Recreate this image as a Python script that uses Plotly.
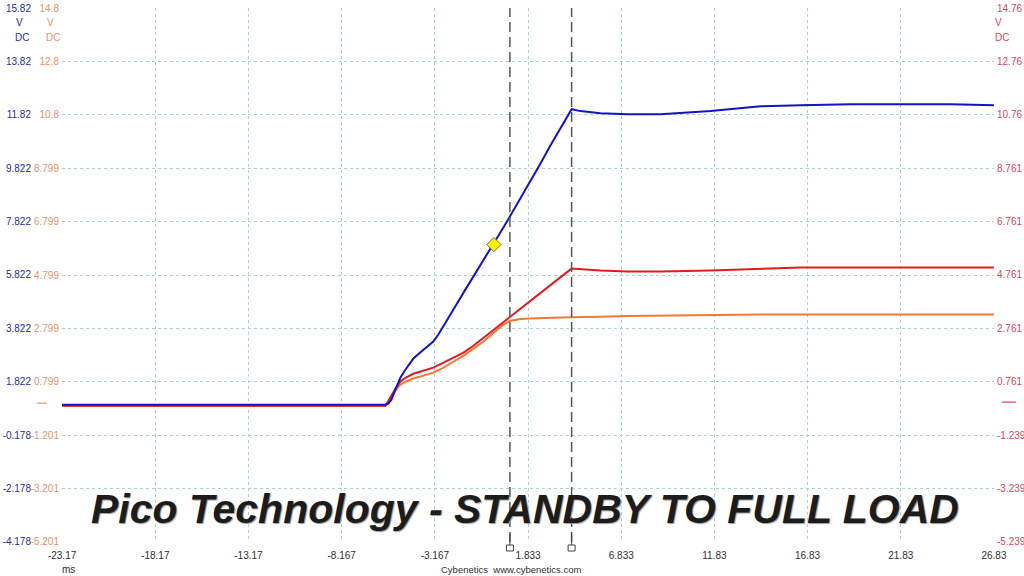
import plotly.graph_objects as go

# ---- data ----
time_ms = [-23.17, -18.44, -13.07, -7.70, -5.82, -5.66, -5.50, -5.29, -5.02, -4.75,
           -4.32, -3.78, -3.25, -2.98, -2.71, -2.17, -1.63, -1.10, -0.56, -0.02, 0.51,
           0.89, 1.43, 1.96, 2.50, 3.04, 3.58, 4.17, 4.65, 5.72, 7.17,
           8.95, 11.63, 14.32, 16.47, 19.15, 21.84, 24.52, 26.83]

blue_v = [0.96, 0.96, 0.96, 0.96, 0.96, 1.00, 1.15, 1.52, 1.97, 2.27,
          2.69, 3.02, 3.33, 3.59, 3.89, 4.53, 5.16, 5.76, 6.36, 6.96, 7.60,
          8.05, 8.69, 9.37, 10.00, 10.68, 11.32, 12.03, 11.96, 11.88, 11.84,
          11.84, 11.96, 12.14, 12.18, 12.22, 12.22, 12.22, 12.18]

red_v = [-0.14, -0.14, -0.14, -0.14, -0.14, 0.05, 0.24, 0.50, 0.76, 0.91,
         1.06, 1.18, 1.29, 1.38, 1.48, 1.66, 1.85, 2.11, 2.41, 2.71, 3.01,
         3.22, 3.52, 3.80, 4.10, 4.40, 4.68, 5.00, 4.97, 4.93, 4.89,
         4.89, 4.93, 5.00, 5.04, 5.04, 5.04, 5.04, 5.04]

orange_v = [-0.10, -0.10, -0.10, -0.10, -0.10, 0.05, 0.24, 0.47, 0.69, 0.80,
            0.92, 1.03, 1.14, 1.24, 1.33, 1.55, 1.78, 2.04, 2.31, 2.64, 2.94,
            3.09, 3.15, 3.17, 3.19, 3.21, 3.21, 3.22, 3.22, 3.24, 3.26,
            3.28, 3.30, 3.32, 3.32, 3.32, 3.32, 3.32, 3.32]

x_tick_vals = [-23.17, -18.17, -13.17, -8.167, -3.167, 1.833, 6.833, 11.83, 16.83, 21.83, 26.83]
x_tick_text = ["-23.17", "-18.17", "-13.17", "-8.167", "-3.167", "1.833", "6.833",
               "11.83", "16.83", "21.83", "26.83"]

blue_ticks = [15.82, 13.82, 11.82, 9.822, 7.822, 5.822, 3.822, 1.822, -0.178, -2.178, -4.178]
blue_tick_text = ["15.82", "13.82", "11.82", "9.822", "7.822", "5.822", "3.822", "1.822",
                  "-0.178", "-2.178", "-4.178"]
orange_ticks = [14.8, 12.8, 10.8, 8.799, 6.799, 4.799, 2.799, 0.799, -1.201, -3.201, -5.201]
orange_tick_text = ["14.8", "12.8", "10.8", "8.799", "6.799", "4.799", "2.799", "0.799",
                    "-1.201", "-3.201", "-5.201"]
red_ticks = [14.76, 12.76, 10.76, 8.761, 6.761, 4.761, 2.761, 0.761, -1.239, -3.239, -5.239]
red_tick_text = ["14.76", "12.76", "10.76", "8.761", "6.761", "4.761", "2.761", "0.761",
                 "-1.239", "-3.239", "-5.239"]

cursor_times = [0.86, 4.17]
trigger_time = [0.0]
trigger_level = [6.96]

BLUE = "#1414c4"
RED = "#e01c1c"
ORANGE = "#f07a34"
BLUE_TXT = "#2c2c9c"
ORANGE_TXT = "#e8926a"
RED_TXT = "#d8465a"
GRID = "#a6d2de"
FONT = "Liberation Sans"

W, H = 1024, 576
PLOT_TOP, PLOT_BOTTOM = 8, 542
PLOT_LEFT, PLOT_RIGHT = 62, 994


def px(xp):
    return xp / W


def py(yp):
    return (PLOT_BOTTOM - yp) / (PLOT_BOTTOM - PLOT_TOP)


fig = go.Figure()
fig.add_trace(go.Scatter(x=time_ms, y=orange_v, mode="lines", yaxis="y",
                         line=dict(color=ORANGE, width=2), hoverinfo="skip"))
fig.add_trace(go.Scatter(x=time_ms, y=red_v, mode="lines", yaxis="y2",
                         line=dict(color=RED, width=2), hoverinfo="skip"))
fig.add_trace(go.Scatter(x=time_ms, y=blue_v, mode="lines", yaxis="y3",
                         line=dict(color=BLUE, width=2), hoverinfo="skip"))
fig.add_trace(go.Scatter(x=trigger_time, y=trigger_level, mode="markers", yaxis="y3",
                         marker=dict(symbol="diamond", size=11, color="#f6f000",
                                     line=dict(color="#7a7a30", width=1)),
                         hoverinfo="skip"))

eps = 0.003


def yrange(top):
    return [top - 20 - eps, top + eps]


def tickfont(c):
    return dict(family=FONT, size=10, color=c)


fig.update_layout(
    template="none",
    width=W, height=H,
    margin=dict(l=0, r=0, t=PLOT_TOP, b=H - PLOT_BOTTOM),
    paper_bgcolor="white", plot_bgcolor="white",
    showlegend=False,
    xaxis=dict(domain=[px(PLOT_LEFT), px(PLOT_RIGHT)], range=[-23.17 - 0.004, 26.83 + 0.004],
               tickmode="array", tickvals=x_tick_vals, ticktext=x_tick_text,
               showgrid=True, gridcolor=GRID, griddash="dot", gridwidth=1,
               zeroline=False, showline=False, ticks="", automargin=False,
               ticklabeloverflow="allow",
               tickfont=tickfont("#303030"), ticklabelstandoff=6),
    yaxis=dict(anchor="x", side="left", range=yrange(14.8),
               tickmode="array", tickvals=orange_ticks, ticktext=orange_tick_text,
               showgrid=True, gridcolor=GRID, griddash="dot", gridwidth=1,
               zeroline=False, showline=False, ticks="", automargin=False,
               ticklabeloverflow="allow",
               tickfont=tickfont(ORANGE_TXT), ticklabelstandoff=2),
    yaxis2=dict(overlaying="y", anchor="x", side="right", range=yrange(14.76),
                tickmode="array", tickvals=red_ticks, ticktext=red_tick_text,
                showgrid=False, zeroline=False, showline=False, ticks="", automargin=False,
                ticklabeloverflow="allow",
                tickfont=tickfont(RED_TXT), ticklabelstandoff=2),
    yaxis3=dict(overlaying="y", anchor="free", position=px(33), side="left",
                range=yrange(15.82),
                tickmode="array", tickvals=blue_ticks, ticktext=blue_tick_text,
                showgrid=False, zeroline=False, showline=False, ticks="", automargin=False,
                ticklabeloverflow="allow",
                tickfont=tickfont(BLUE_TXT), ticklabelstandoff=2),
)

shapes = []
for t in cursor_times:
    shapes.append(dict(type="line", xref="x", yref="paper", x0=t, x1=t, y0=0, y1=1,
                       line=dict(color="#555555", width=1.5, dash="10px,5px")))
    shapes.append(dict(type="line", xref="x", yref="paper", xsizemode="pixel", ysizemode="pixel",
                       xanchor=t, yanchor=0, x0=0, x1=0, y0=-4, y1=8,
                       line=dict(color="#404040", width=1)))
    shapes.append(dict(type="rect", xref="x", yref="paper", xsizemode="pixel", ysizemode="pixel",
                       xanchor=t, yanchor=0, x0=-3.5, x1=3.5, y0=-3, y1=-9,
                       line=dict(color="#404040", width=1), fillcolor="white"))
# channel zero markers
shapes.append(dict(type="line", xref="paper", yref="y", x0=px(37), x1=px(47), y0=0, y1=0,
                   line=dict(color=ORANGE, width=1)))
shapes.append(dict(type="line", xref="paper", yref="y2", x0=px(1002), x1=px(1016), y0=0, y1=0,
                   line=dict(color=RED, width=1)))
fig.update_layout(shapes=shapes)

ann = []
for txt, x, y, c in [("V", 19, 23, BLUE_TXT), ("DC", 22, 37, BLUE_TXT),
                     ("V", 50, 23, ORANGE_TXT), ("DC", 53, 37, ORANGE_TXT),
                     ("V", 998, 23, RED_TXT), ("DC", 1002, 37, RED_TXT)]:
    ann.append(dict(text=txt, x=px(x), y=py(y), xref="paper", yref="paper",
                    showarrow=False, xanchor="center", yanchor="middle",
                    font=dict(family=FONT, size=10, color=c)))
ann.append(dict(text="ms", x=px(68), y=py(569), xref="paper", yref="paper",
                showarrow=False, xanchor="center", yanchor="middle",
                font=dict(family=FONT, size=10, color="#303030")))
ann.append(dict(text="Cybenetics  www.cybenetics.com", x=px(511), y=py(569),
                xref="paper", yref="paper", showarrow=False, xanchor="center", yanchor="middle",
                font=dict(family=FONT, size=9.5, color="#303030")))
ann.append(dict(text="<b><i>Pico Technology - STANDBY TO FULL LOAD</i></b>",
                x=px(525), y=py(509), xref="paper", yref="paper", showarrow=False,
                xanchor="center", yanchor="middle",
                font=dict(family=FONT, size=41, color="#1c1c1c",
                          shadow="1px 1px 1px #9a9a9a")))
fig.update_layout(annotations=ann)

fig.write_html("out.html",
               config={"displayModeBar": False},
               post_script="document.body.style.margin='0';document.body.style.overflow='hidden';")
